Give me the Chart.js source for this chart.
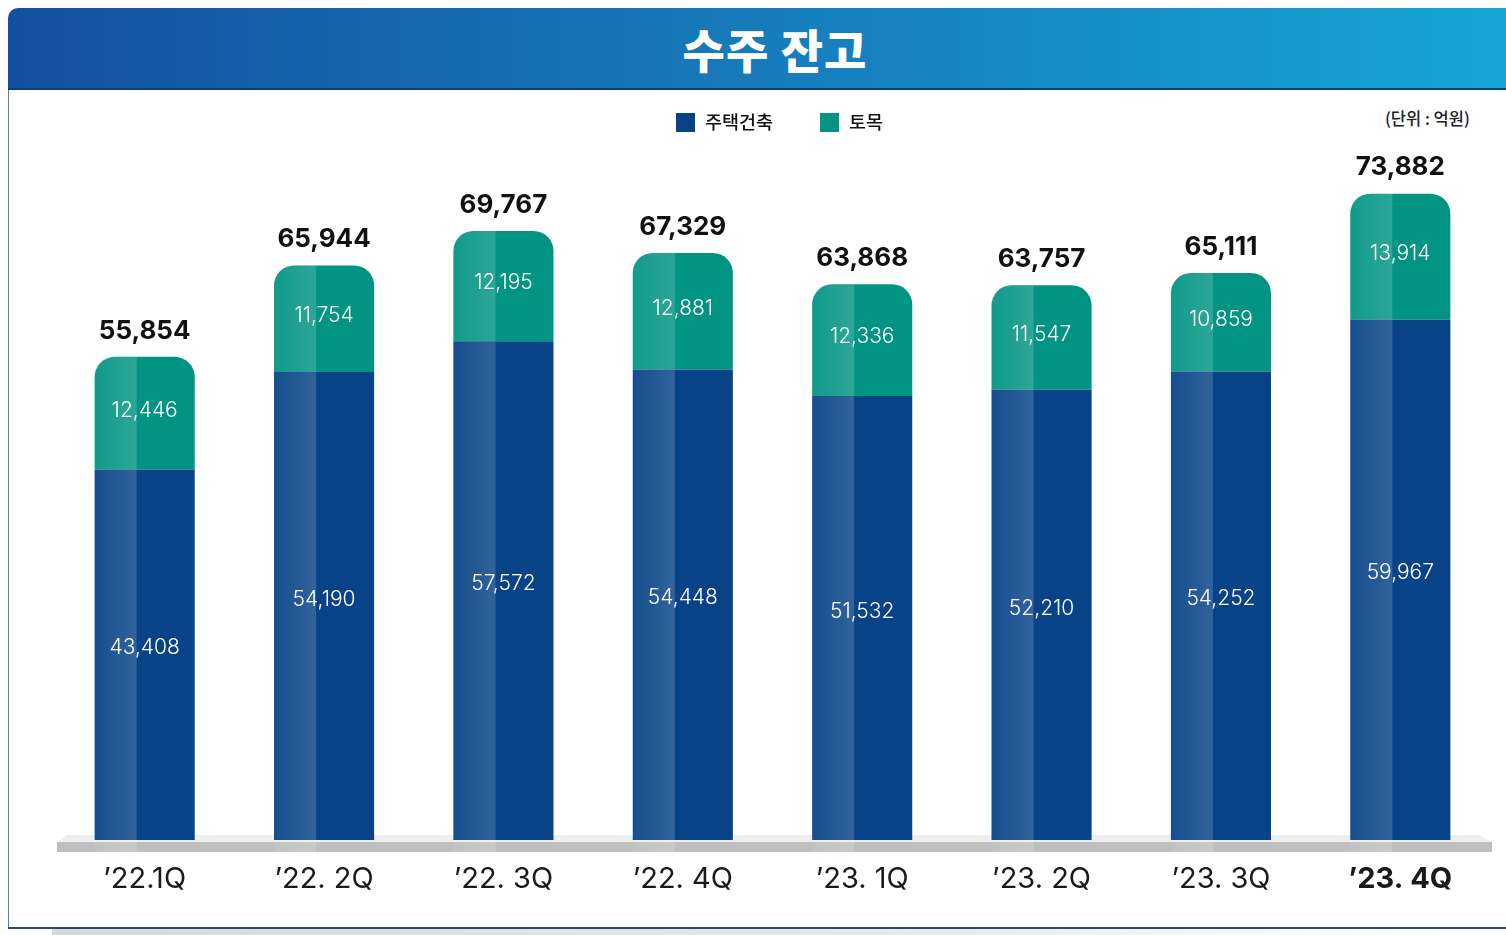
<!DOCTYPE html>
<html><head><meta charset="utf-8">
<script src="https://cdn.jsdelivr.net/npm/chart.js@4.4.1/dist/chart.umd.min.js"></script>
<style>
html,body{margin:0;padding:0;background:#fff;width:1506px;height:935px;overflow:hidden;font-family:"Noto Sans CJK KR","Noto Sans",sans-serif;}
#banner{position:absolute;left:8px;top:8px;width:1498px;height:80px;border-top-left-radius:10px;background:linear-gradient(90deg,#1450a0 0%,#1777b8 45%,#16a6d6 100%);border-bottom:2px solid #0b3f78;}
#banner span{position:absolute;left:0;right:0;top:0;text-align:center;line-height:80px;color:#fff;font-size:46px;font-weight:900;font-family:"Noto Sans CJK KR",sans-serif;letter-spacing:1px;padding-left:36px;}
#frameL{position:absolute;left:8px;top:90px;width:1px;height:838px;background:#5a7aa8;}
#frameB{position:absolute;left:8px;top:927px;width:1498px;height:2px;background:#1e4a80;}
#shadow{position:absolute;left:52px;top:929px;width:1400px;height:6px;background:linear-gradient(90deg,#d8d8d8,#e8e8e8 60%,rgba(255,255,255,0));}
#unit{position:absolute;left:1385px;top:106px;font-size:16.5px;font-weight:500;color:#222;font-family:"Noto Sans CJK KR",sans-serif;}
#wrap{position:absolute;left:50px;top:90px;width:1456px;height:845px;}
</style></head>
<body>
<div id="banner"><span>수주 잔고</span></div>
<div id="frameL"></div>
<div id="shadow"></div>
<div id="frameB"></div>
<div id="unit">(단위 : 억원)</div>
<div id="wrap"><canvas id="c" width="1456" height="845"></canvas></div>
<script>
const categories = ["’22.1Q","’22. 2Q","’22. 3Q","’22. 4Q","’23. 1Q","’23. 2Q","’23. 3Q","’23. 4Q"];
const housing = [43408,54190,57572,54448,51532,52210,54252,59967];
const civil = [12446,11754,12195,12881,12336,11547,10859,13914];
const totals = [55854,65944,69767,67329,63868,63757,65111,73882];
const seriesNames = ["주택건축","토목"];

const NAVY = "#084387", TEAL = "#029483";
const fmt = v => v.toLocaleString("en-US");

const platformPlugin = {
  id:"platform",
  beforeDatasetsDraw(chart){
    const {ctx, chartArea:a} = chart;
    ctx.save();
    ctx.fillStyle = "#efefef";
    ctx.beginPath();
    ctx.moveTo(a.left+12, a.bottom-5);
    ctx.lineTo(a.right-12, a.bottom-5);
    ctx.lineTo(a.right+2, a.bottom+2);
    ctx.lineTo(a.left+2, a.bottom+2);
    ctx.closePath(); ctx.fill();
    ctx.fillStyle = "#bfbfbf";
    ctx.fillRect(a.left+2, a.bottom+2, a.right-a.left, 10);
    ctx.restore();
  }
};

const glossPlugin = {
  id:"gloss",
  afterDatasetsDraw(chart){
    const {ctx} = chart;
    ctx.save();
    chart.data.datasets.forEach((ds, di)=>{
      const meta = chart.getDatasetMeta(di);
      meta.data.forEach(el=>{
        const w = el.width, left = el.x - w/2;
        const top = Math.min(el.y, el.base), bot = Math.max(el.y, el.base);
        const r = di===1 ? 20 : 0;
        const gw = w*0.42;
        const g = ctx.createLinearGradient(left,0,left+gw,0);
        g.addColorStop(0,"rgba(255,255,255,0.06)");
        g.addColorStop(1,"rgba(255,255,255,0.17)");
        ctx.save();
        ctx.beginPath();
        ctx.roundRect(left, top, w, bot-top, [r,r,0,0]);
        ctx.clip();
        ctx.fillStyle = g;
        ctx.fillRect(left, top, gw, bot-top);
        ctx.restore();
      });
    });
    ctx.restore();
  }
};

const labelPlugin = {
  id:"labels",
  afterDatasetsDraw(chart){
    const {ctx} = chart;
    ctx.save();
    ctx.textAlign = "center";
    ctx.textBaseline = "middle";
    ctx.fillStyle = "#fff";
    ctx.font = "300 21px Inter, 'Noto Sans', sans-serif";
    chart.data.datasets.forEach((ds, di)=>{
      const meta = chart.getDatasetMeta(di);
      meta.data.forEach((el,i)=>{
        ctx.fillText(fmt(ds.data[i]), el.x, (el.y+el.base)/2 - (di===0?18:3));
      });
    });
    const top = chart.getDatasetMeta(1);
    ctx.fillStyle = "#111";
    ctx.font = "700 26px Inter, 'Noto Sans', sans-serif";
    top.data.forEach((el,i)=>{
      ctx.fillText(fmt(totals[i]), el.x, el.y - 26);
    });
    ctx.restore();
  }
};

const legendPlugin = {
  id:"customLegend",
  afterDraw(chart){
    const {ctx} = chart;
    ctx.save();
    ctx.font = "500 18.5px 'Noto Sans CJK KR', sans-serif";
    ctx.textBaseline = "middle";
    ctx.textAlign = "left";
    const xs = [626, 770];
    chart.data.datasets.forEach((ds,i)=>{
      ctx.fillStyle = ds.backgroundColor;
      ctx.fillRect(xs[i], 23, 19, 19);
      ctx.fillStyle = "#111";
      ctx.fillText(ds.label, xs[i]+29, 32);
    });
    ctx.restore();
  }
};

new Chart(document.getElementById("c"), {
  type:"bar",
  data:{
    labels: categories,
    datasets:[
      {label: seriesNames[0], data: housing, backgroundColor: NAVY, borderWidth:0, borderSkipped:false, borderRadius:0},
      {label: seriesNames[1], data: civil, backgroundColor: TEAL, borderWidth:0, borderSkipped:false,
       borderRadius:{topLeft:20, topRight:20, bottomLeft:0, bottomRight:0}}
    ]
  },
  options:{
    responsive:false,
    animation:false,
    devicePixelRatio:1,
    layout:{padding:{left:5, right:16, top:60, bottom:35}},
    datasets:{bar:{barPercentage:0.558, categoryPercentage:1}},
    plugins:{legend:{display:false}, tooltip:{enabled:false}},
    scales:{
      x:{stacked:true, grid:{display:false, drawTicks:false}, border:{display:false},
         afterFit(s){ s.height = 60; },
         ticks:{padding:22, color:"#1a1a1a",
           font:(c)=>({family:"Inter, 'Noto Sans', sans-serif", size:29, weight: c.index===7 ? "700" : "400"})}},
      y:{stacked:true, display:false, min:2500, max:78700}
    }
  },
  plugins:[platformPlugin, glossPlugin, labelPlugin, legendPlugin]
});
</script>
</body></html>
